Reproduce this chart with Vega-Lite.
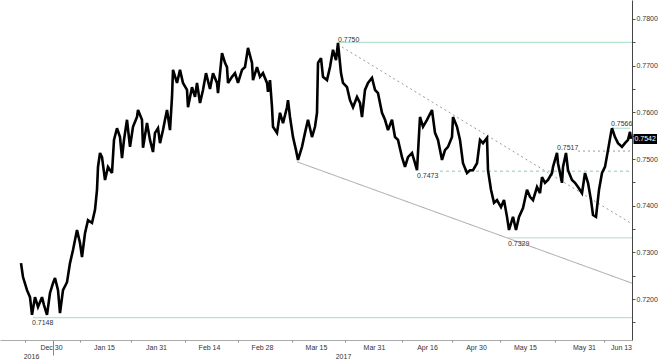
{
 "$schema": "https://vega.github.io/schema/vega-lite/v6.json",
 "width": 632,
 "height": 340,
 "autosize": {"type": "none"},
 "padding": {"left": 0, "top": 0, "right": 36, "bottom": 21},
 "background": "white",
 "config": {"view": {"stroke": null}, "font": "Liberation Sans", "axis": {"labelOverlap": false}},
 "resolve": {"axis": {"x": "independent", "y": "independent"}},
 "datasets": {
  "price": [
   {"i":21,"p":0.7277},{"i":23,"p":0.7247},{"i":27,"p":0.7219},{"i":30,"p":0.7204},{"i":32,"p":0.7166},{"i":35,"p":0.7204},{"i":38,"p":0.7183},{"i":42,"p":0.7204},{"i":44,"p":0.7187},{"i":47,"p":0.7166},{"i":50,"p":0.7213},{"i":53,"p":0.7234},{"i":55,"p":0.7245},{"i":58,"p":0.7219},{"i":60,"p":0.7170},{"i":63,"p":0.7219},{"i":67,"p":0.7236},{"i":70,"p":0.7277},{"i":73,"p":0.7305},{"i":77,"p":0.7348},{"i":80,"p":0.7320},{"i":82,"p":0.7290},{"i":85,"p":0.7341},{"i":88,"p":0.7369},{"i":92,"p":0.7363},{"i":95,"p":0.7391},{"i":97,"p":0.7434},{"i":98,"p":0.7483},{"i":100,"p":0.7513},
   {"i":102,"p":0.7504},{"i":105,"p":0.7455},{"i":108,"p":0.7483},{"i":112,"p":0.7470},{"i":114,"p":0.7541},{"i":117,"p":0.7566},{"i":120,"p":0.7547},{"i":122,"p":0.7502},{"i":124,"p":0.7541},{"i":127,"p":0.7584},{"i":130,"p":0.7526},{"i":133,"p":0.7569},{"i":137,"p":0.7590},{"i":138,"p":0.7605},{"i":142,"p":0.7584},{"i":143,"p":0.7524},{"i":147,"p":0.7577},{"i":150,"p":0.7541},{"i":153,"p":0.7515},{"i":155,"p":0.7556},{"i":158,"p":0.7566},{"i":160,"p":0.7534},{"i":163,"p":0.7562},{"i":165,"p":0.7584},{"i":167,"p":0.7605},{"i":170,"p":0.7562},{"i":172,"p":0.7633},{"i":173,"p":0.7691},{"i":177,"p":0.7663},{"i":180,"p":0.7691},{"i":183,"p":0.7663},{"i":187,"p":0.7648},{"i":188,"p":0.7611},{"i":192,"p":0.7654},{"i":195,"p":0.7633},{"i":197,"p":0.7663},{"i":200,"p":0.7620},{"i":203,"p":0.7648},{"i":206,"p":0.7684},{"i":210,"p":0.7650},
   {"i":213,"p":0.7684},{"i":217,"p":0.7663},{"i":218,"p":0.7641},{"i":222,"p":0.7727},{"i":225,"p":0.7706},{"i":227,"p":0.7697},{"i":228,"p":0.7663},{"i":232,"p":0.7676},{"i":235,"p":0.7684},{"i":238,"p":0.7663},{"i":242,"p":0.7691},{"i":245,"p":0.7697},{"i":248,"p":0.7738},{"i":252,"p":0.7706},{"i":253,"p":0.7669},{"i":257,"p":0.7697},{"i":260,"p":0.7676},{"i":263,"p":0.7684},{"i":267,"p":0.7663},{"i":268,"p":0.7644},{"i":270,"p":0.7669},{"i":272,"p":0.7611},{"i":273,"p":0.7569},{"i":277,"p":0.7556},{"i":280,"p":0.7599},{"i":283,"p":0.7577},{"i":287,"p":0.7611},{"i":288,"p":0.7626},{"i":290,"p":0.7590},{"i":293,"p":0.7547},{"i":296,"p":0.7519},{"i":298,"p":0.7498},{"i":302,"p":0.7526},{"i":305,"p":0.7556},{"i":308,"p":0.7584},{"i":312,"p":0.7547},{"i":315,"p":0.7569},{"i":317,"p":0.7599},
   {"i":318,"p":0.7706},{"i":321,"p":0.7716},{"i":323,"p":0.7676},{"i":327,"p":0.7669},{"i":330,"p":0.7697},{"i":333,"p":0.7734},{"i":336,"p":0.7712},{"i":338,"p":0.7749},{"i":341,"p":0.7684},{"i":343,"p":0.7663},{"i":347,"p":0.7654},{"i":350,"p":0.7626},{"i":353,"p":0.7611},{"i":357,"p":0.7633},{"i":360,"p":0.7620},{"i":362,"p":0.7590},{"i":365,"p":0.7648},{"i":368,"p":0.7663},{"i":372,"p":0.7674},{"i":375,"p":0.7648},{"i":378,"p":0.7641},{"i":382,"p":0.7599},{"i":385,"p":0.7584},{"i":388,"p":0.7562},{"i":392,"p":0.7584},{"i":395,"p":0.7547},{"i":398,"p":0.7541},{"i":402,"p":0.7504},{"i":405,"p":0.7483},{"i":408,"p":0.7504},{"i":412,"p":0.7513},{"i":415,"p":0.7491},{"i":417,"p":0.7476},{"i":420,"p":0.7590},{"i":423,"p":0.7569},{"i":427,"p":0.7584},
   {"i":432,"p":0.7605},{"i":435,"p":0.7556},{"i":438,"p":0.7541},{"i":442,"p":0.7498},{"i":445,"p":0.7519},{"i":448,"p":0.7526},{"i":452,"p":0.7547},{"i":453,"p":0.7590},{"i":457,"p":0.7569},{"i":460,"p":0.7541},{"i":463,"p":0.7491},{"i":467,"p":0.7470},{"i":470,"p":0.7476},{"i":473,"p":0.7476},{"i":477,"p":0.7491},{"i":480,"p":0.7541},{"i":483,"p":0.7534},{"i":487,"p":0.7545},{"i":488,"p":0.7476},{"i":491,"p":0.7434},{"i":494,"p":0.7406},{"i":497,"p":0.7412},{"i":501,"p":0.7397},{"i":504,"p":0.7412},{"i":507,"p":0.7376},{"i":509,"p":0.7348},{"i":513,"p":0.7376},{"i":516,"p":0.7348},{"i":519,"p":0.7376},
   {"i":523,"p":0.7395},{"i":527,"p":0.7434},{"i":530,"p":0.7419},{"i":533,"p":0.7412},{"i":537,"p":0.7440},{"i":540,"p":0.7427},{"i":542,"p":0.7461},{"i":545,"p":0.7449},{"i":548,"p":0.7455},{"i":552,"p":0.7470},{"i":553,"p":0.7483},{"i":557,"p":0.7513},{"i":558,"p":0.7491},{"i":562,"p":0.7449},{"i":563,"p":0.7483},{"i":566,"p":0.7513},{"i":568,"p":0.7476},{"i":572,"p":0.7455},{"i":575,"p":0.7449},{"i":578,"p":0.7440},{"i":582,"p":0.7427},{"i":585,"p":0.7470},{"i":588,"p":0.7449},{"i":591,"p":0.7412},{"i":593,"p":0.7380},{"i":596,"p":0.7376},{"i":599,"p":0.7434},{"i":602,"p":0.7470},{"i":605,"p":0.7483},{"i":608,"p":0.7519},{"i":611,"p":0.7556},{"i":612,"p":0.7566},{"i":615,"p":0.7547},{"i":618,"p":0.7534},{"i":622,"p":0.7526},{"i":625,"p":0.7534},{"i":628,"p":0.7541},{"i":630,"p":0.7558},{"i":631,"p":0.7543}
  ],
  "lines": [
   {"kind":"level","x":338,"x2":632,"y":0.7750,"y2":0.7750},
   {"kind":"level","x":33,"x2":632,"y":0.7160,"y2":0.7160},
   {"kind":"level2","x":508,"x2":632,"y":0.7331,"y2":0.7331},
   {"kind":"level","x":612,"x2":630,"y":0.7566,"y2":0.7566},
   {"kind":"greyDash","x":578,"x2":632,"y":0.7517,"y2":0.7517},
   {"kind":"levelDash","x":440,"x2":632,"y":0.7474,"y2":0.7474},
   {"kind":"greyDash","x":342,"x2":632,"y":0.7740,"y2":0.7361},
   {"kind":"trend","x":297,"x2":632,"y":0.7494,"y2":0.7234}
  ],
  "labels": [
   {"x":338,"y":0.7755,"t":"0.7750"},
   {"x":32,"y":0.71486,"t":"0.7148"},
   {"x":508,"y":0.73179,"t":"0.7329"},
   {"x":417,"y":0.74636,"t":"0.7473"},
   {"x":557,"y":0.75236,"t":"0.7517"},
   {"x":611,"y":0.7575,"t":"0.7566"}
  ],
  "last": [
   {"x":633.5,"x2":657,"y":0.75322,"y2":0.75536,"xc":645.2,"p":0.7543,"t":"0.7542"}
  ]
 },
 "layer": [
  {
   "data": {"name": "lines"},
   "mark": {"type": "rule", "strokeWidth": 1},
   "encoding": {
    "x": {"field": "x", "type": "quantitative", "title": null,
     "scale": {"domain": [0, 632], "nice": false, "zero": false},
     "axis": {
      "orient": "bottom",
      "values": [25, 31, 51, 53, 80, 104, 131, 156, 185, 209, 238, 262, 292, 316, 343, 345, 374, 402, 427, 452, 476, 500, 525, 555, 584, 604, 621],
      "labelExpr": "indexof([51,104,156,209,262,316,374,427,476,525,584,621], datum.value) >= 0 ? ['Dec 30','Jan 15','Jan 31','Feb 14','Feb 28','Mar 15','Mar 31','Apr 16','Apr 30','May 15','May 31','Jun 13'][indexof([51,104,156,209,262,316,374,427,476,525,584,621], datum.value)] : (datum.value == 31 ? ['', '2016'] : (datum.value == 343 ? ['', '2017'] : ''))",
      "labelFontSize": 7,
      "labelColor": "#333333",
      "labelPadding": 1,
      "labelLineHeight": 9,
      "labelOverlap": false,
      "labelFlush": false,
      "labelBound": false,
      "grid": false,
      "domainColor": "#aaaaaa",
      "tickColor": "#888888",
      "tickSize": {"condition": {"test": "datum.value == 53", "value": 15}, "value": 2},
      "tickOpacity": {"condition": {"test": "indexof([25,53,80,131,185,238,292,345,402,452,500,555,604], datum.value) >= 0", "value": 1}, "value": 0}
     }
    },
    "x2": {"field": "x2"},
    "y": {"field": "y", "type": "quantitative", "title": null,
     "scale": {"domain": [0.71122, 0.78407], "nice": false, "zero": false},
     "axis": {
      "orient": "right",
      "values": [0.715, 0.72, 0.725, 0.73, 0.735, 0.74, 0.745, 0.75, 0.755, 0.76, 0.765, 0.77, 0.775, 0.78],
      "labelExpr": "round(datum.value*1000) % 10 == 0 ? format(datum.value, '.4f') : ''",
      "labelFontSize": 7,
      "labelColor": "#333333",
      "labelPadding": 1,
      "tickSize": 3,
      "tickColor": "#555555",
      "domainColor": "#444444",
      "grid": false,
      "labelOverlap": false,
      "labelFlush": false
     }
    },
    "y2": {"field": "y2"},
    "color": {"field": "kind", "type": "nominal", "legend": null,
     "scale": {"domain": ["level", "level2", "levelDash", "greyDash", "trend"], "range": ["#a6dcc2", "#b9d9cc", "#8fc9b0", "#9a9a9a", "#a3a3a3"]}},
    "strokeDash": {"field": "kind", "type": "nominal", "legend": null,
     "scale": {"domain": ["level", "level2", "levelDash", "greyDash", "trend"], "range": [[1, 0], [1, 0], [3, 3], [2, 3], [1, 0]]}}
   }
  },
  {
   "data": {"name": "price"},
   "mark": {"type": "line", "color": "#000000", "strokeWidth": 2.6, "strokeJoin": "miter", "strokeMiterLimit": 3},
   "encoding": {
    "x": {"field": "i", "type": "quantitative", "title": null, "axis": null},
    "y": {"field": "p", "type": "quantitative", "title": null, "axis": null}
   }
  },
  {
   "data": {"name": "labels"},
   "mark": {"type": "text", "align": "left", "baseline": "middle", "fontSize": 7, "color": "#333333", "font": "Liberation Sans"},
   "encoding": {
    "x": {"field": "x", "type": "quantitative", "title": null, "axis": null},
    "y": {"field": "y", "type": "quantitative", "title": null, "axis": null},
    "text": {"field": "t"}
   }
  },
  {
   "data": {"name": "last"},
   "mark": {"type": "rect", "color": "#000000", "clip": false},
   "encoding": {
    "x": {"field": "x", "type": "quantitative", "title": null, "axis": null},
    "x2": {"field": "x2"},
    "y": {"field": "y", "type": "quantitative", "title": null, "axis": null},
    "y2": {"field": "y2"}
   }
  },
  {
   "data": {"name": "last"},
   "mark": {"type": "text", "align": "center", "baseline": "middle", "fontSize": 7, "color": "#ffffff", "font": "Liberation Sans"},
   "encoding": {
    "x": {"field": "xc", "type": "quantitative", "title": null, "axis": null},
    "y": {"field": "p", "type": "quantitative", "title": null, "axis": null},
    "text": {"field": "t"}
   }
  }
 ]
}
